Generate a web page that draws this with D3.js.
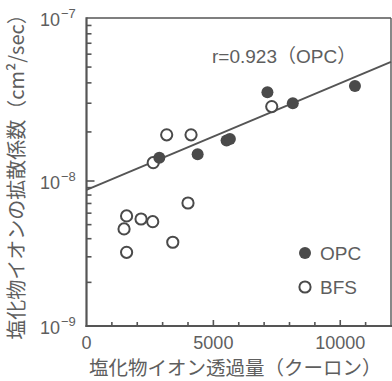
<!DOCTYPE html>
<html><head><meta charset="utf-8">
<script src="https://cdn.jsdelivr.net/npm/d3@7"></script>
<style>body{margin:0;background:#fff}svg{display:block}</style>
</head><body>
<svg id="c" width="392" height="381"></svg>
<script>
// ---- data ----
const opcX = [2870, 4380, 5520, 5650, 7130, 8130, 10580];
const opcY = [1.39e-8, 1.46e-8, 1.77e-8, 1.81e-8, 3.50e-8, 3.00e-8, 3.83e-8];
const bfsX = [3160, 4120, 2630, 4000, 1580, 2150, 2610, 1480, 3400, 1580, 7300];
const bfsY = [1.92e-8, 1.92e-8, 1.295e-8, 7.05e-9, 5.74e-9, 5.47e-9, 5.24e-9, 4.67e-9, 3.78e-9, 3.22e-9, 2.86e-8];
const fitX = [0, 12000];
const fitY = [8.67e-9, 5.39e-8];
const xTickLabels = [0, 5000, 10000];
const xMinorTicks = [1000,2000,3000,4000,5000,6000,7000,8000,9000,10000,11000];
const yMajorExp = [-9, -8, -7];
const yMinorTicks = [2e-9,3e-9,4e-9,5e-9,6e-9,7e-9,8e-9,9e-9,2e-8,3e-8,4e-8,5e-8,6e-8,7e-8,8e-8,9e-8];
const fitLabel = "r=0.923（OPC）";
const legendNames = ["OPC", "BFS"];
const xTitle = "塩化物イオン透過量（クーロン）";
const yTitle = "塩化物イオンの拡散係数（cm²/sec）";

// ---- chart ----
const svg = d3.select("#c");
const L = 86.5, R = 391, T = 18, B = 326;
const x = d3.scaleLinear().domain([0, 12000]).range([L, R]);
const y = d3.scaleLog().domain([1e-9, 1e-8, 1e-7]).range([B, 181, T]);
const axisCol = "#555", txtCol = "#5e5e5e", markCol = "#4a4a4a";
const latin = "'Liberation Sans', Arial, 'Noto Sans CJK JP', sans-serif";
const cjk = "'Noto Sans CJK JP', sans-serif";

// frame
svg.append("line").attr("x1", L).attr("x2", R).attr("y1", T).attr("y2", T).attr("stroke", axisCol).attr("stroke-width", 1.6);
svg.append("line").attr("x1", R).attr("x2", R).attr("y1", T).attr("y2", B).attr("stroke", axisCol).attr("stroke-width", 1.4);

// x axis ticks (inward)
svg.append("g").selectAll("line").data(xMinorTicks).join("line")
  .attr("x1", d => x(d)).attr("x2", d => x(d))
  .attr("y1", B).attr("y2", d => B - (d % 5000 === 0 ? 6 : 4))
  .attr("stroke", axisCol).attr("stroke-width", 1.6);
svg.append("g").selectAll("text").data(xTickLabels).join("text")
  .attr("x", d => x(d)).attr("y", 349).attr("text-anchor", "middle")
  .attr("font-family", latin).attr("font-size", 18).attr("fill", txtCol)
  .text(d => d);

// y axis ticks (inward)
svg.append("g").selectAll("line").data(yMinorTicks).join("line")
  .attr("x1", L).attr("x2", L + 5).attr("y1", d => y(d)).attr("y2", d => y(d))
  .attr("stroke", axisCol).attr("stroke-width", 1.6);
svg.append("line").attr("x1", L).attr("x2", L + 8).attr("y1", y(1e-8)).attr("y2", y(1e-8))
  .attr("stroke", axisCol).attr("stroke-width", 1.6);
const yl = svg.append("g").selectAll("text").data(yMajorExp).join("text")
  .attr("x", 40).attr("y", d => y(Math.pow(10, d)) + 8)
  .attr("font-family", latin).attr("font-size", 18).attr("fill", txtCol);
yl.append("tspan").text("10");
yl.append("tspan").attr("font-size", 13).attr("dy", -8).attr("dx", 1).text(d => "−" + Math.abs(d));

// axes lines
svg.append("line").attr("x1", L).attr("x2", L).attr("y1", T - 0.8).attr("y2", B + 1).attr("stroke", axisCol).attr("stroke-width", 2.2);
svg.append("line").attr("x1", L - 1).attr("x2", R + 1).attr("y1", B).attr("y2", B).attr("stroke", axisCol).attr("stroke-width", 2.2);

// fit line
const fit = fitX.map((d, i) => [d, fitY[i]]);
svg.append("path").datum(fit)
  .attr("d", d3.line().x(d => x(d[0])).y(d => y(d[1])))
  .attr("fill", "none").attr("stroke", axisCol).attr("stroke-width", 1.9);

// BFS open circles
svg.append("g").selectAll("circle").data(bfsX.map((d, i) => [d, bfsY[i]])).join("circle")
  .attr("cx", d => x(d[0])).attr("cy", d => y(d[1])).attr("r", 5.6)
  .attr("fill", "#fff").attr("stroke", markCol).attr("stroke-width", 2);
// OPC filled circles
svg.append("g").selectAll("circle").data(opcX.map((d, i) => [d, opcY[i]])).join("circle")
  .attr("cx", d => x(d[0])).attr("cy", d => y(d[1])).attr("r", 6)
  .attr("fill", markCol);

// fit label
svg.append("text").attr("x", 212).attr("y", 63)
  .attr("font-family", latin).attr("font-size", 19).attr("fill", txtCol).text(fitLabel);

// legend
svg.append("circle").attr("cx", 305).attr("cy", 253).attr("r", 6).attr("fill", markCol);
svg.append("circle").attr("cx", 305).attr("cy", 287).attr("r", 5.6).attr("fill", "#fff").attr("stroke", markCol).attr("stroke-width", 2);
svg.append("g").selectAll("text").data(legendNames).join("text")
  .attr("x", 320).attr("y", (d, i) => 260 + i * 34)
  .attr("font-family", latin).attr("font-size", 19).attr("fill", txtCol).text(d => d);

// titles
svg.append("text").attr("x", 89).attr("y", 375)
  .attr("font-family", cjk).attr("font-size", 19.5).attr("fill", txtCol).text(xTitle);
svg.append("text").attr("transform", "translate(24,172) rotate(-90)")
  .attr("text-anchor", "middle")
  .attr("font-family", cjk).attr("font-size", 20).attr("fill", txtCol).text(yTitle);
</script>
</body></html>
